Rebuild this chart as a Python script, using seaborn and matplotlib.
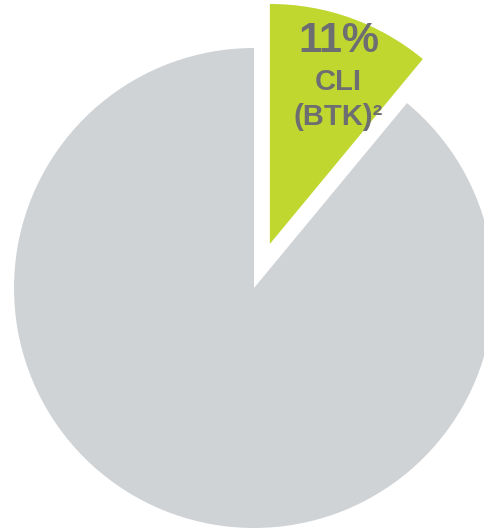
import matplotlib
matplotlib.use("Agg")
import matplotlib.pyplot as plt
import seaborn as sns

categories = ["CLI (BTK)", "Other"]
values = [11, 89]
pct_label = "11%"
name_lines = ["CLI", "(BTK)²"]

sns.set_theme(style="white")
plt.rcParams['font.family'] = ['Liberation Sans', 'DejaVu Sans']

W, H = 485, 530
fig = plt.figure(figsize=(W / 100, H / 100), dpi=100)
ax = fig.add_axes([0, 0, 1, 1])

cx, cy, R = 254, 288, 240  # pixel center and radius
ax.pie(values, colors=["#c0d72f", "#d0d3d6"], startangle=90, counterclock=False,
       explode=[0.195, 0], radius=1, wedgeprops=dict(linewidth=0))

ax.set_xlim((0 - cx) / R, (W - cx) / R)
ax.set_ylim((cy - H) / R, cy / R)
ax.set_aspect('auto')
ax.axis('off')

def px(x, y):
    return (x - cx) / R, (cy - y) / R

tc = "#6d6e71"
ax.text(*px(339, 41), pct_label, ha='center', va='center', fontsize=30,
        fontweight='bold', color=tc)
ax.text(*px(338, 82), name_lines[0], ha='center', va='center', fontsize=21,
        fontweight='bold', color=tc)
ax.text(*px(338, 117), name_lines[1], ha='center', va='center', fontsize=21,
        fontweight='bold', color=tc)

fig.savefig("out.png", dpi=100)
